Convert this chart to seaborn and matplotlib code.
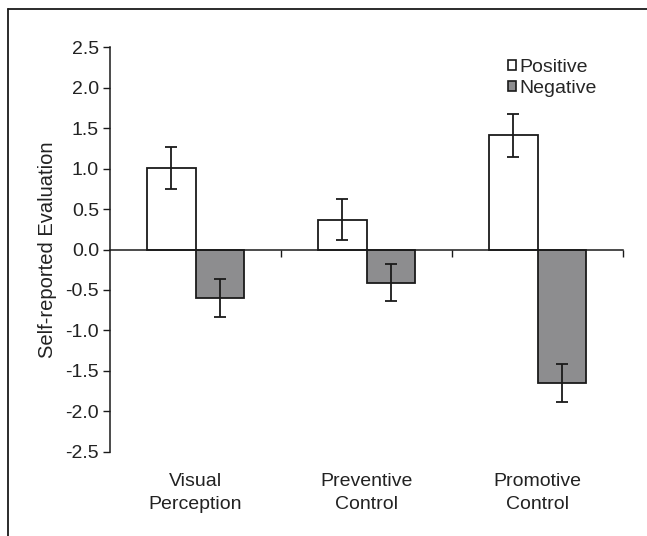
import matplotlib
matplotlib.use("Agg")
import matplotlib.pyplot as plt
import seaborn as sns
import pandas as pd
import numpy as np
from matplotlib.lines import Line2D
from matplotlib.patches import Patch

categories = ["Visual\nPerception", "Preventive\nControl", "Promotive\nControl"]
conditions = ["Positive", "Negative"]
positive_vals = [1.01, 0.37, 1.41]
negative_vals = [-0.60, -0.41, -1.65]
positive_err = [0.26, 0.25, 0.265]
negative_err = [0.235, 0.225, 0.23]
y_ticks = [-2.5, -2.0, -1.5, -1.0, -0.5, 0.0, 0.5, 1.0, 1.5, 2.0, 2.5]

sns.set_style("white")
plt.rcParams['font.family'] = ['Liberation Sans', 'DejaVu Sans']

df = pd.DataFrame({
    "category": categories * 2,
    "condition": [conditions[0]] * 3 + [conditions[1]] * 3,
    "value": positive_vals + negative_vals,
    "err": positive_err + negative_err,
})

FS = 14

fig = plt.figure(figsize=(6.47, 5.36), dpi=100)
ax = fig.add_axes([0.170, 0.157, 0.793, 0.755])

palette = {"Positive": "#ffffff", "Negative": "#8d8d8f"}
sns.barplot(data=df, x="category", y="value", hue="condition", order=categories,
            hue_order=conditions, palette=palette, width=0.57, edgecolor="#1a1a1a",
            linewidth=1.3, errorbar=None, legend=False, ax=ax, saturation=1)

# error bars from bar geometry
bars = [p for p in ax.patches]
for p, (_, row) in zip(bars, df.iterrows()):
    xc = p.get_x() + p.get_width() / 2
    ax.errorbar(xc, row["value"], yerr=row["err"], fmt="none", ecolor="#1a1a1a",
                elinewidth=1.3, capsize=4, capthick=1.3, zorder=5)

ax.set_xlim(-0.5, 2.5)
ax.set_ylim(-2.5, 2.5)
ax.set_yticks(y_ticks)
ax.set_yticklabels([f"{t:.1f}" for t in y_ticks], fontsize=FS, color="#222222")
ax.tick_params(axis="y", direction="out", length=5, width=1, color="#1a1a1a", left=True, pad=3)
ax.set_ylabel("Self-reported Evaluation", fontsize=FS + 0.5, color="#222222", labelpad=6)
ax.set_xlabel("")

for s in ["top", "right"]:
    ax.spines[s].set_visible(False)
ax.spines["left"].set_color("#1a1a1a")
ax.spines["left"].set_linewidth(1.1)
ax.spines["bottom"].set_position(("data", 0))
ax.spines["bottom"].set_color("#1a1a1a")
ax.spines["bottom"].set_linewidth(1.1)
ax.set_xticks([0, 1, 2])
ax.set_xticks([0.5, 1.5, 2.5], minor=True)
ax.tick_params(axis="x", which="major", length=0, labelbottom=False)
ax.tick_params(axis="x", which="minor", direction="out", length=5, width=1, color="#1a1a1a", bottom=True)

sec = ax.secondary_xaxis("bottom")
sec.set_xticks([0, 1, 2])
sec.set_xticklabels(categories, fontsize=FS, color="#222222", linespacing=1.5)
sec.tick_params(length=0, pad=15)
sec.spines["bottom"].set_visible(False)

handles = [Patch(facecolor=palette[c], edgecolor="#1a1a1a", linewidth=1.2, label=c) for c in conditions]
ax.legend(handles=handles, loc="upper left", bbox_to_anchor=(0.760, 0.99), frameon=False,
          fontsize=FS, handlelength=0.45, handleheight=0.45, handletextpad=0.15,
          labelspacing=0.2, borderaxespad=0)

# figure frame (top and left)
fig.add_artist(Line2D([8 / 647, 1], [1 - 9 / 536, 1 - 9 / 536], color="#1a1a1a", lw=1.3,
                      transform=fig.transFigure))
fig.add_artist(Line2D([8 / 647, 8 / 647], [0, 1 - 9 / 536], color="#1a1a1a", lw=1.3,
                      transform=fig.transFigure))

fig.savefig("out.png", dpi=100)
